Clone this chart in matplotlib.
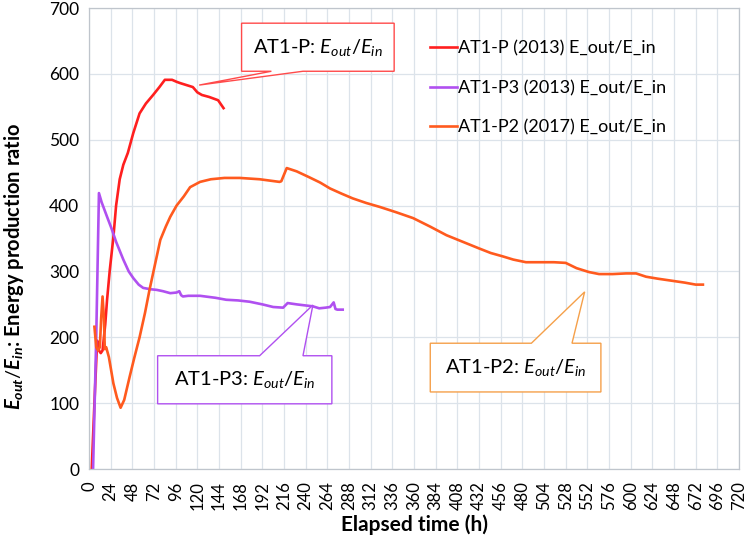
import matplotlib
matplotlib.use('Agg')
import matplotlib.pyplot as plt
from matplotlib.patches import Polygon

plt.rcParams['font.family'] = ['Lato', 'DejaVu Sans']
plt.rcParams['mathtext.fontset'] = 'custom'
plt.rcParams['mathtext.rm'] = 'Lato'
plt.rcParams['mathtext.it'] = 'Lato:italic'
plt.rcParams['mathtext.bf'] = 'Lato:bold'
plt.rcParams['mathtext.bfit'] = 'Lato:italic:bold'

# AT1-P (2013)
red_t = [3, 6, 9, 11, 13, 15, 18, 20, 23, 27, 30, 34, 38, 43, 49, 56, 63, 71, 78, 84,
         92, 97, 101, 108, 115, 120, 125, 133, 143, 147, 149]
red_v = [0, 100, 195, 180, 176, 180, 220, 257, 302, 352, 400, 440, 462, 480, 510, 540, 555,
         568, 580, 591, 591, 588, 586, 583, 580, 572, 568, 565, 560, 552, 548]

# AT1-P3 (2013)
pur_t = [4.5, 8, 11, 14, 20, 25, 30, 38, 44, 49, 55, 60, 68, 75, 82, 90, 97, 100, 102, 104,
         110, 123, 140, 152, 165, 178, 192, 204, 215, 220, 230, 248, 255, 262, 267, 271, 273,
         275, 281]
pur_v = [0, 200, 419, 405, 383, 365, 345, 318, 300, 290, 280, 275, 273, 272, 270, 267, 268,
         270, 264, 262, 263, 263, 260, 257, 256, 254, 250, 246, 245, 252, 250, 247, 244, 245,
         246, 253, 243, 242, 242]

# AT1-P2 (2017)
ora_t = [6, 8, 10, 12, 13.5, 15, 16.5, 17.5, 19, 22, 27, 31, 35, 39, 45, 50, 56, 62, 67, 73,
         79, 85, 90, 97, 105, 112, 123, 135, 150, 167, 189, 200, 211, 213, 219, 230, 244, 256,
         267, 280, 292, 307, 322, 340, 359, 378, 396, 414, 432, 445, 458, 470, 484, 500, 515,
         528, 540, 554, 565, 580, 595, 606, 617, 630, 645, 660, 672, 680]
ora_v = [216, 185, 180, 185, 230, 262, 230, 182, 185, 170, 130, 108, 93, 105, 140, 168, 200,
         237, 272, 310, 348, 368, 383, 400, 414, 428, 436, 440, 442, 442, 440, 438, 436, 437,
         457, 452, 443, 435, 426, 418, 411, 404, 398, 390, 381, 368, 355, 345, 335, 328, 323,
         318, 314, 314, 314, 313, 305, 299, 296, 296, 297, 297, 292, 289, 286, 283, 280, 280]

labels = ['AT1-P (2013) E_out/E_in', 'AT1-P3 (2013) E_out/E_in', 'AT1-P2 (2017) E_out/E_in']
colors = ['#FF1F1F', '#B050F0', '#FF5A1E']

xticks = list(range(0, 721, 24))
yticks = list(range(0, 701, 100))

fig = plt.figure(figsize=(7.48, 5.36), dpi=100)
ax = fig.add_axes([0.119, 0.125, 0.869, 0.86])

ax.plot(red_t, red_v, color=colors[0], lw=1.9, label=labels[0])
ax.plot(pur_t, pur_v, color=colors[1], lw=1.9, label=labels[1])
ax.plot(ora_t, ora_v, color=colors[2], lw=1.9, label=labels[2])

ax.set_xlim(0, 720)
ax.set_ylim(0, 700)
ax.set_xticks(xticks)
ax.set_yticks(yticks)
ax.tick_params(axis='x', labelsize=12, labelrotation=90, length=0, pad=9)
ax.tick_params(axis='y', labelsize=12.5, length=0, pad=7)
ax.grid(True, color='#DCE3EA', lw=0.9)
ax.set_axisbelow(True)
for s in ax.spines.values():
    s.set_color('#BFC5CC')
    s.set_linewidth(0.9)

ax.set_xlabel('Elapsed time (h)', fontsize=15, fontweight='bold', labelpad=3)
ax.set_ylabel(r'$\mathbfit{E}_{\mathbfit{out}}/\mathbfit{E}_{\mathbfit{in}}$: Energy production ratio',
              fontsize=14.5, fontweight='bold')
ax.yaxis.set_label_coords(-0.097, 0.439)

ax.legend(loc='upper left', bbox_to_anchor=(0.5, 0.965), frameon=False, fontsize=13,
          handlelength=1.5, handletextpad=0.05, labelspacing=1.3)


def callout(box, base, tip, color, text):
    # box = (x0, x1, y0, y1); wedge on top or bottom edge
    x0, x1, y0, y1 = box
    b0, b1, by = base
    if by == y0:
        pts = [(x0, y1), (x1, y1), (x1, y0), (b1, y0), tip, (b0, y0), (x0, y0)]
    else:
        pts = [(x0, y0), (x0, y1), (b0, y1), tip, (b1, y1), (x1, y1), (x1, y0)]
    ax.add_patch(Polygon(pts, closed=True, facecolor='white', edgecolor=color,
                         lw=1.0, zorder=5))
    ax.text((x0 + x1) / 2, (y0 + y1) / 2, text, ha='center', va='center',
            fontsize=14.5, zorder=6)


callout((169, 338, 604, 677), (202, 237, 604), (122, 583), '#FF4A4A',
        r'AT1-P: $E_{out}/E_{in}$')
callout((76, 269, 99, 172), (189, 237, 172), (248, 249), '#B050F0',
        r'AT1-P3: $E_{out}/E_{in}$')
callout((378, 567, 117, 191), (490, 535, 191), (549, 269), '#F5A04A',
        r'AT1-P2: $E_{out}/E_{in}$')

fig.savefig('out.png', dpi=100)
